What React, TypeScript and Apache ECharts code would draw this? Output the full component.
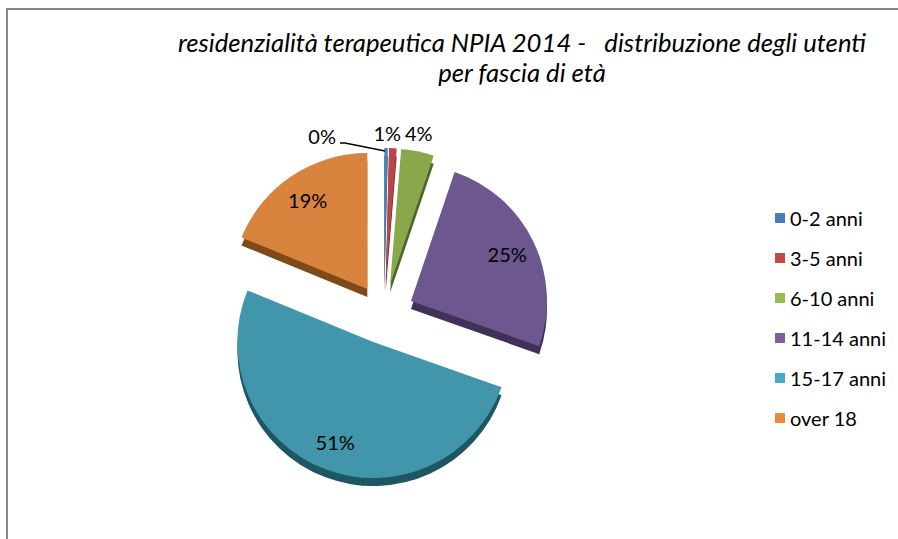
import React, { useEffect, useRef } from 'react';
import * as echarts from 'echarts';

const categories = ['0-2 anni', '3-5 anni', '6-10 anni', '11-14 anni', '15-17 anni', 'over 18'];
const shares = [0.4, 0.9, 3.9, 25.2, 50.8, 18.8];
const faceColors = ['#4A7EBB', '#B84745', '#88A84B', '#6C578F', '#4296AB', '#D8843F'];
const sideColors = ['#2A4A70', '#6E2523', '#4E6428', '#3F3157', '#1E5663', '#7F4A1A'];
const legendColors = ['#4A7EBB', '#BE4B48', '#98B954', '#7D60A0', '#46AAC5', '#EB8A3C'];
const titleLines = [
  'residenzialità terapeutica NPIA 2014 -   distribuzione degli utenti',
  'per fascia di età',
];

export default function App() {
  const ref = useRef<HTMLDivElement>(null);
  useEffect(() => {
    const chart = echarts.init(ref.current as HTMLDivElement, null, { renderer: 'svg' });
    const CX = 384, CY = 314, R = 136, EXPLODE = 30, DEPTH = 8, PUSH = 66;
    const FONT = 'Lato, "Open Sans", sans-serif';

    const baseSeries = {
      type: 'pie',
      radius: R,
      startAngle: 90,
      clockwise: true,
      emphasis: { disabled: true },
      avoidLabelOverlap: false,
      minShowLabelAngle: 0,
    };

    chart.setOption({
      animation: false,
      backgroundColor: '#ffffff',
      title: {
        text: titleLines.join('\n'),
        left: 517,
        top: 22,
        textAlign: 'center',
        textStyle: {
          fontFamily: FONT,
          fontStyle: 'italic',
          fontWeight: 'normal',
          fontSize: 25.7,
          lineHeight: 30,
          color: '#000',
        },
      },
      legend: {
        orient: 'vertical',
        left: 770,
        top: 203,
        itemWidth: 10,
        itemHeight: 10,
        itemGap: 20,
        icon: 'rect',
        selectedMode: false,
        textStyle: { fontFamily: FONT, fontSize: 20, lineHeight: 20, color: '#000' },
        data: categories.map((n, i) => ({ name: n, itemStyle: { color: legendColors[i] } })),
      },
      graphic: [
        {
          type: 'rect',
          silent: true,
          z: -10,
          shape: { x: 7, y: 9, width: 1000, height: 1000 },
          style: { fill: 'none', stroke: '#868686', lineWidth: 2 },
        },
      ],
      series: [
        {
          ...baseSeries,
          name: 'top',
          z: 3,
          center: [CX, CY],
          selectedMode: 'multiple',
          selectedOffset: EXPLODE,
          label: { show: false },
          labelLine: { show: false },
          data: categories.map((name, i) => ({
            name,
            value: shares[i],
            selected: true,
            itemStyle: { color: faceColors[i] },
          })),
        },
        {
          ...baseSeries,
          name: 'side',
          z: 2,
          silent: true,
          legendHoverLink: false,
          center: [CX, CY + DEPTH],
          selectedMode: 'multiple',
          selectedOffset: EXPLODE,
          label: { show: false },
          labelLine: { show: false },
          data: categories.map((name, i) => ({
            name,
            value: shares[i],
            selected: true,
            itemStyle: { color: sideColors[i] },
          })),
        },
        {
          ...baseSeries,
          name: 'labels',
          z: 4,
          silent: true,
          legendHoverLink: false,
          center: [CX, CY],
          label: {
            show: true,
            fontFamily: FONT,
            fontSize: 20,
            color: '#000',
            formatter: (p: any) => Math.round(p.percent) + '%',
          },
          labelLayout: (p: any) => {
            const i = p.dataIndex;
            const lr = p.labelRect;
            const hr = p.rect;
            if (shares[i] >= 10) {
              const lx = lr.x + lr.width / 2;
              const ly = lr.y + lr.height / 2;
              const vx = lx - CX, vy = ly - CY;
              const len = Math.hypot(vx, vy) || 1;
              return {
                x: lx + (vx / len) * PUSH,
                y: ly + (vy / len) * PUSH,
                align: 'center',
                verticalAlign: 'middle',
              };
            }
            if (i === 0) {
              const x = hr.x - 48;
              const y = hr.y - 42;
              return {
                x,
                y,
                align: 'right',
                verticalAlign: 'middle',
                labelLinePoints: [
                  [hr.x + 1, hr.y - EXPLODE + 3],
                  [x + 9, y + 7],
                  [x + 4, y + 7],
                ],
              };
            }
            if (i === 1) {
              return { x: hr.x + hr.width + 6, y: hr.y - 45, align: 'right', verticalAlign: 'middle' };
            }
            return { x: hr.x + hr.width * 0.48, y: hr.y - 45, align: 'left', verticalAlign: 'middle' };
          },
          data: categories.map((name, i) => ({
            name,
            value: shares[i],
            itemStyle: { color: 'rgba(0,0,0,0)' },
            label: { position: shares[i] < 10 ? 'outside' : 'inside' },
            labelLine: {
              show: i === 0,
              length: 6,
              length2: 8,
              lineStyle: { color: '#000', width: 1.3 },
            },
          })),
        },
      ],
    });
    return () => chart.dispose();
  }, []);
  return (
    <div
      ref={ref}
      style={{ position: 'absolute', left: 0, top: 0, width: 898, height: 539, background: '#fff' }}
    />
  );
}
